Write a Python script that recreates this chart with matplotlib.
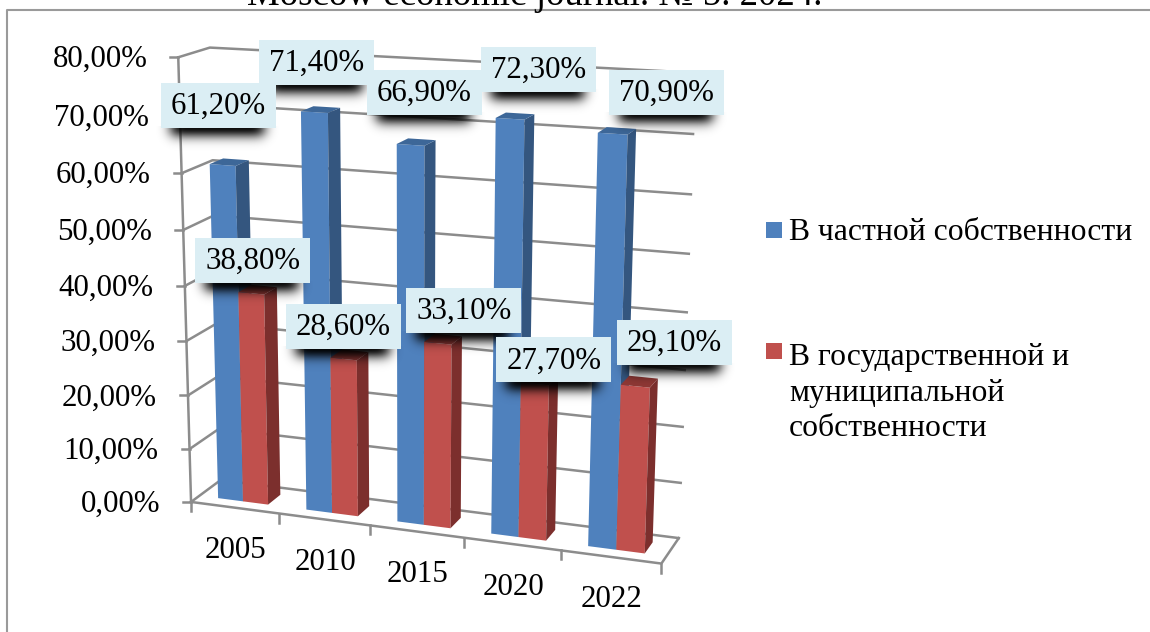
import matplotlib
matplotlib.use("Agg")
import matplotlib.pyplot as plt
import numpy as np
from matplotlib.colors import LinearSegmentedColormap
from matplotlib.patches import Polygon, Rectangle

# ---- data ----
years = ["2005", "2010", "2015", "2020", "2022"]
private_share = [61.2, 71.4, 66.9, 72.3, 70.9]
public_share = [38.8, 28.6, 33.1, 27.7, 29.1]
y_ticks = [0, 10, 20, 30, 40, 50, 60, 70, 80]
private_label = "В частной собственности"
public_label = "В государственной и\nмуниципальной\nсобственности"
title_text = "Moscow economic journal. № 5. 2024."

# label box offsets from the top of each bar, pixels
private_offsets = [(-4.5, -59.5), (2.5, -49.5), (13.5, -52.5), (28.5, -49.5), (53.5, -41.5)]
public_offsets = [(1.5, -32.5), (0, -32.5), (26, -32.5), (19, -24), (39, -43.5)]

# ---- styles ----
plt.rcParams["font.family"] = ["Liberation Serif", "DejaVu Serif"]
GRID = "#8c8c8c"
BLUE = ("#4f81bd", "#34567f", "#3d6798")
RED = ("#c0504d", "#7c2f2d", "#8e3835")
BOX = "#dbeef4"
BAR_W = 0.285
D0, D1 = 0.28, 0.72
FS = 22.2
LW = 1.8
SHADE = LinearSegmentedColormap.from_list("shade", [(0, 0, 0, 0), (0, 0, 0, 1)])

# camera: (category, value, depth) -> image pixel, fitted on the chart frame corners
world = np.array([
    (0, 0, 0), (0, 80, 0), (0, 0, 1), (0, 80, 1), (5, 0, 1), (5, 70, 1), (5, 0, 0),
    (1, 0, 0), (2, 0, 0), (3, 0, 0), (4, 0, 0), (5, 40, 1),
], float)
pixels = np.array([
    (191, 499), (178, 57), (220, 481), (210, 48), (679, 537), (693, 134), (661, 563),
    (280, 514), (371, 527), (464, 539), (561, 551), (687, 312),
], float)
A, b = [], []
for (wx, wv, wd), (px, py) in zip(world, pixels):
    A.append([wx, wv, wd, 1, 0, 0, 0, 0, -px * wx, -px * wv, -px * wd])
    A.append([0, 0, 0, 0, wx, wv, wd, 1, -py * wx, -py * wv, -py * wd])
    b += [px, py]
h = np.linalg.lstsq(np.array(A), np.array(b), rcond=None)[0]
cam = np.append(h, 1).reshape(3, 4)


def project(x, v, d):
    p = cam @ np.array([x, v, d, 1.0])
    return p[0] / p[2], p[1] / p[2]


def bar3d(ax, x0, x1, value, colors, z):
    a = project(x0, 0, D0)
    b_ = project(x1, 0, D0)
    c = project(x1, value, D0)
    e = project(x0, value, D0)
    f = project(x1, 0, D1)
    g = project(x1, value, D1)
    i = project(x0, value, D1)
    ax.add_patch(Polygon([a, b_, c, e], fc=colors[0], ec="none", zorder=z))
    ax.add_patch(Polygon([b_, f, g, c], fc=colors[1], ec="none", zorder=z))
    ax.add_patch(Polygon([e, c, g, i], fc=colors[2], ec="none", zorder=z))


def shadow(ax, left, right, bottom, z):
    # dark band under a label box, fading downwards and at both ends
    xs = np.arange(np.floor(left) - 10, np.ceil(right) + 11)
    ys = np.arange(np.floor(bottom) - 2, np.floor(bottom) + 31)
    mid_x = (xs[:-1] + xs[1:]) / 2
    mid_y = (ys[:-1] + ys[1:]) / 2
    across = ((mid_x >= left + 10) & (mid_x <= right - 12)).astype(float)
    kernel = np.exp(-0.5 * (np.arange(-18, 19) / 6.0) ** 2)
    across = np.convolve(across, kernel / kernel.sum(), "same")
    down = np.exp(-0.5 * (np.clip(mid_y - bottom, 0, None) / 7.0) ** 2)
    ax.pcolormesh(xs, ys, 0.95 * np.outer(down, across), cmap=SHADE, vmin=0, vmax=1,
                  shading="flat", antialiased=False, linewidth=0, zorder=z)


def data_label(ax, anchor, offset, text):
    cx, cy = anchor[0] + offset[0], anchor[1] + offset[1]
    w, h_ = 115, 45
    shadow(ax, cx - w / 2, cx + w / 2, cy + h_ / 2, 20)
    ax.add_patch(Rectangle((cx - w / 2, cy - h_ / 2), w, h_, fc=BOX, ec="none", zorder=21))
    ax.text(cx, cy + 1, text, fontsize=FS, ha="center", va="center", color="black", zorder=22)


fig = plt.figure(figsize=(11.5, 6.32), dpi=100)
ax = fig.add_axes([0, 0, 1, 1])
ax.set_axis_off()

# outer frame and the clipped caption above it
ax.plot([7, 7, 1150], [632, 10, 10], color="#9a9a9a", lw=1.5, zorder=1)
ax.text(247, 5, title_text, fontsize=26.6, ha="left", va="baseline", color="black", zorder=1)

# walls and floor
for v in y_ticks:
    pts = [project(0, v, 0), project(0, v, 1), project(5, v, 1)]
    ax.plot(*zip(*pts), color=GRID, lw=LW, zorder=2)
    tx, ty = pts[0]
    ax.plot([tx - 8, tx], [ty, ty], color=GRID, lw=LW, zorder=2)
    ax.text(tx - 31, ty + 2.5, f"{v},00%", fontsize=FS, ha="right", va="center", zorder=3)
ax.plot(*zip(project(0, 0, 0), project(0, 80, 0)), color=GRID, lw=LW, zorder=2)
ax.plot(*zip(project(0, 0, 0), project(5, 0, 0), project(5, 0, 1)), color=GRID, lw=LW, zorder=2)
for i in range(len(years) + 1):
    tx, ty = project(i, 0, 0)
    ax.plot([tx, tx], [ty, ty + 9], color=GRID, lw=LW, zorder=2)

# bars
label_jobs = []
for i, year in enumerate(years):
    left = i + 0.5 - BAR_W
    bar3d(ax, left, i + 0.5, private_share[i], BLUE, 5 + i)
    bar3d(ax, i + 0.5, i + 0.5 + BAR_W, public_share[i], RED, 5.5 + i)
    label_jobs.append((project(i + 0.5 - BAR_W / 2, private_share[i], D0), private_offsets[i], private_share[i]))
    label_jobs.append((project(i + 0.5 + BAR_W / 2, public_share[i], D0), public_offsets[i], public_share[i]))
    tx, ty = project(i + 0.5, 0, 0)
    ax.text(tx + 1, ty + 43, year, fontsize=FS, ha="center", va="center", zorder=3)

for anchor, offset, value in label_jobs:
    data_label(ax, anchor, offset, f"{value:.2f}".replace(".", ",") + "%")

# legend
ax.add_patch(Rectangle((766, 222), 16, 16, fc=BLUE[0], ec="none", zorder=3))
ax.add_patch(Rectangle((766, 343), 16, 16, fc=RED[0], ec="none", zorder=3))
ax.text(789, 233, private_label, fontsize=22.75, ha="left", va="center", zorder=3)
ax.text(789, 393, public_label, fontsize=22.75, ha="left", va="center", linespacing=1.3, zorder=3)

ax.set_xlim(0, 1150)
ax.set_ylim(632, 0)
fig.savefig("out.png", dpi=100, facecolor="white")
